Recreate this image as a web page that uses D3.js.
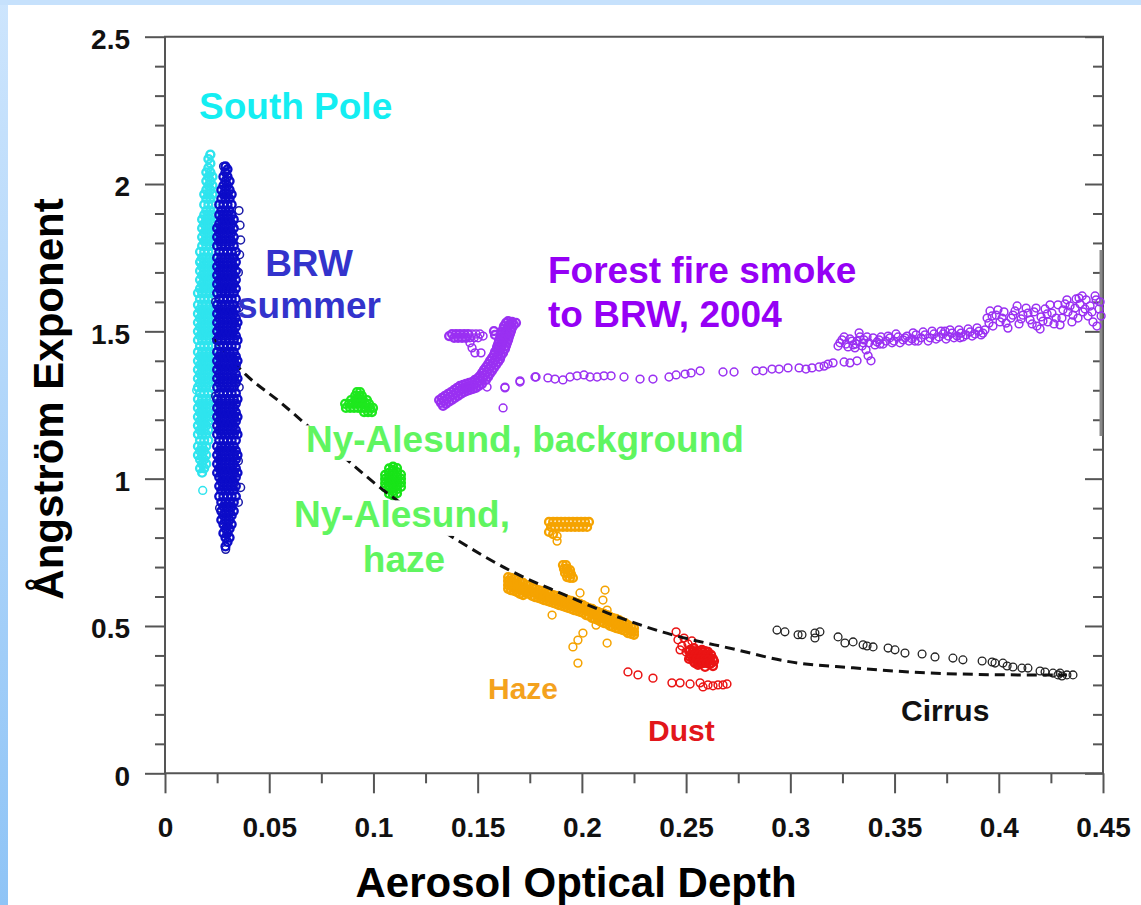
<!DOCTYPE html>
<html>
<head>
<meta charset="utf-8">
<script src="https://cdn.jsdelivr.net/npm/d3@7"></script>
<style>
  html, body { margin: 0; padding: 0; background: #fff; }
  svg { display: block; }
  text { font-family: "Liberation Sans", Arial, Helvetica, sans-serif; font-weight: bold; }
</style>
</head>
<body>
<svg id="chart" width="1141" height="905"></svg>
<script>
// ---- Axis ticks ----
const xTickValues = [0, 0.05, 0.1, 0.15, 0.2, 0.25, 0.3, 0.35, 0.4, 0.45];
const xTickLabels = ["0", "0.05", "0.1", "0.15", "0.2", "0.25", "0.3", "0.35", "0.4", "0.45"];
const xMinorTicks = [0.025, 0.075, 0.125, 0.175, 0.225, 0.275, 0.325, 0.375, 0.425];
const yTickValues = [0, 0.5, 1, 1.5, 2, 2.5];
const yTickLabels = ["0", "0.5", "1", "1.5", "2", "2.5"];
const yMinorTicks = [0.1, 0.2, 0.3, 0.4, 0.6, 0.7, 0.8, 0.9, 1.1, 1.2, 1.3, 1.4, 1.6, 1.7, 1.8, 1.9, 2.1, 2.2, 2.3, 2.4];

// ---- South Pole: dense column, one AOD strip per entry with its Angstrom values ----
const southPoleStrips = [
  { aod: 0.0158, alpha: [1.08, 1.11, 1.15, 1.18, 1.21, 1.24, 1.27, 1.31, 1.34, 1.37, 1.40, 1.43, 1.47, 1.50, 1.53, 1.56, 1.59, 1.63] },
  { aod: 0.0168, alpha: [1.035, 1.065, 1.095, 1.13, 1.165, 1.195, 1.225, 1.255, 1.29, 1.325, 1.355, 1.385, 1.415, 1.45, 1.485, 1.515, 1.545, 1.575, 1.61, 1.645, 1.675, 1.705, 1.735, 1.77] },
  { aod: 0.0178, alpha: [1.02, 1.05, 1.08, 1.11, 1.15, 1.18, 1.21, 1.24, 1.27, 1.31, 1.34, 1.37, 1.40, 1.43, 1.47, 1.50, 1.53, 1.56, 1.59, 1.63, 1.66, 1.69, 1.72, 1.75, 1.79, 1.82, 1.85, 1.88] },
  { aod: 0.0188, alpha: [1.035, 1.065, 1.095, 1.13, 1.165, 1.195, 1.225, 1.255, 1.29, 1.325, 1.355, 1.385, 1.415, 1.45, 1.485, 1.515, 1.545, 1.575, 1.61, 1.645, 1.675, 1.705, 1.735, 1.77, 1.805, 1.835, 1.865, 1.895, 1.93, 1.965] },
  { aod: 0.0198, alpha: [1.05, 1.08, 1.11, 1.15, 1.18, 1.21, 1.24, 1.27, 1.31, 1.34, 1.37, 1.40, 1.43, 1.47, 1.50, 1.53, 1.56, 1.59, 1.63, 1.66, 1.69, 1.72, 1.75, 1.79, 1.82, 1.85, 1.88, 1.91, 1.95, 1.98, 2.01, 2.04] },
  { aod: 0.0208, alpha: [1.13, 1.165, 1.195, 1.225, 1.255, 1.29, 1.325, 1.355, 1.385, 1.415, 1.45, 1.485, 1.515, 1.545, 1.575, 1.61, 1.645, 1.675, 1.705, 1.735, 1.77, 1.805, 1.835, 1.865, 1.895, 1.93, 1.965, 1.995, 2.025, 2.055, 2.085] },
  { aod: 0.0218, alpha: [1.21, 1.24, 1.27, 1.31, 1.34, 1.37, 1.40, 1.43, 1.47, 1.50, 1.53, 1.56, 1.59, 1.63, 1.66, 1.69, 1.72, 1.75, 1.79, 1.82, 1.85, 1.88, 1.91, 1.95, 1.98, 2.01, 2.04, 2.07, 2.10] },
  { aod: 0.0228, alpha: [1.355, 1.385, 1.415, 1.45, 1.485, 1.515, 1.545, 1.575, 1.61, 1.645, 1.675, 1.705, 1.735, 1.77, 1.805, 1.835, 1.865, 1.895, 1.93, 1.965, 1.995, 2.025] }
];
const southPoleExtra = [[0.0181, 0.96], [0.0170, 1.74], [0.0152, 1.30], [0.0216, 2.10]];

// ---- BRW summer ----
const brwStrips = [
  { aod: 0.0250, alpha: [1.02, 1.05, 1.08, 1.11, 1.15, 1.18, 1.21, 1.24, 1.27, 1.31, 1.34, 1.37, 1.40, 1.43, 1.47, 1.50, 1.53, 1.56, 1.59, 1.63, 1.66, 1.69, 1.72, 1.75, 1.79, 1.82, 1.85] },
  { aod: 0.0260, alpha: [0.94, 0.975, 1.005, 1.035, 1.065, 1.095, 1.13, 1.165, 1.195, 1.225, 1.255, 1.29, 1.325, 1.355, 1.385, 1.415, 1.45, 1.485, 1.515, 1.545, 1.575, 1.61, 1.645, 1.675, 1.705, 1.735, 1.77, 1.805, 1.835, 1.865, 1.895, 1.93] },
  { aod: 0.0270, alpha: [0.86, 0.89, 0.92, 0.96, 0.99, 1.02, 1.05, 1.08, 1.11, 1.15, 1.18, 1.21, 1.24, 1.27, 1.31, 1.34, 1.37, 1.40, 1.43, 1.47, 1.50, 1.53, 1.56, 1.59, 1.63, 1.66, 1.69, 1.72, 1.75, 1.79, 1.82, 1.85, 1.88, 1.91, 1.95, 1.98] },
  { aod: 0.0280, alpha: [0.815, 0.845, 0.875, 0.905, 0.94, 0.975, 1.005, 1.035, 1.065, 1.095, 1.13, 1.165, 1.195, 1.225, 1.255, 1.29, 1.325, 1.355, 1.385, 1.415, 1.45, 1.485, 1.515, 1.545, 1.575, 1.61, 1.645, 1.675, 1.705, 1.735, 1.77, 1.805, 1.835, 1.865, 1.895, 1.93, 1.965, 1.995, 2.025] },
  { aod: 0.0290, alpha: [0.77, 0.80, 0.83, 0.86, 0.89, 0.92, 0.96, 0.99, 1.02, 1.05, 1.08, 1.11, 1.15, 1.18, 1.21, 1.24, 1.27, 1.31, 1.34, 1.37, 1.40, 1.43, 1.47, 1.50, 1.53, 1.56, 1.59, 1.63, 1.66, 1.69, 1.72, 1.75, 1.79, 1.82, 1.85, 1.88, 1.91, 1.95, 1.98, 2.01, 2.04, 2.06] },
  { aod: 0.0300, alpha: [0.785, 0.815, 0.845, 0.875, 0.905, 0.94, 0.975, 1.005, 1.035, 1.065, 1.095, 1.13, 1.165, 1.195, 1.225, 1.255, 1.29, 1.325, 1.355, 1.385, 1.415, 1.45, 1.485, 1.515, 1.545, 1.575, 1.61, 1.645, 1.675, 1.705, 1.735, 1.77, 1.805, 1.835, 1.865, 1.895, 1.93, 1.965, 1.995, 2.025, 2.05] },
  { aod: 0.0310, alpha: [0.80, 0.83, 0.86, 0.89, 0.92, 0.96, 0.99, 1.02, 1.05, 1.08, 1.11, 1.15, 1.18, 1.21, 1.24, 1.27, 1.31, 1.34, 1.37, 1.40, 1.43, 1.47, 1.50, 1.53, 1.56, 1.59, 1.63, 1.66, 1.69, 1.72, 1.75, 1.79, 1.82, 1.85, 1.88, 1.91, 1.95, 1.98, 2.01] },
  { aod: 0.0320, alpha: [0.845, 0.875, 0.905, 0.94, 0.975, 1.005, 1.035, 1.065, 1.095, 1.13, 1.165, 1.195, 1.225, 1.255, 1.29, 1.325, 1.355, 1.385, 1.415, 1.45, 1.485, 1.515, 1.545, 1.575, 1.61, 1.645, 1.675, 1.705, 1.735, 1.77, 1.805, 1.835, 1.865, 1.895, 1.93, 1.965] },
  { aod: 0.0330, alpha: [0.89, 0.92, 0.96, 0.99, 1.02, 1.05, 1.08, 1.11, 1.15, 1.18, 1.21, 1.24, 1.27, 1.31, 1.34, 1.37, 1.40, 1.43, 1.47, 1.50, 1.53, 1.56, 1.59, 1.63, 1.66, 1.69, 1.72, 1.75, 1.79, 1.82, 1.85, 1.88] },
  { aod: 0.0340, alpha: [0.94, 0.975, 1.005, 1.035, 1.065, 1.095, 1.13, 1.165, 1.195, 1.225, 1.255, 1.29, 1.325, 1.355, 1.385, 1.415, 1.45, 1.485, 1.515, 1.545, 1.575, 1.61, 1.645, 1.675, 1.705, 1.735, 1.77] },
  { aod: 0.0348, alpha: [1.02, 1.08, 1.15, 1.21, 1.27, 1.34, 1.40, 1.47, 1.53] }
];
const brwExtra = [[0.0355, 1.91], [0.0360, 1.86], [0.0363, 1.81], [0.0358, 1.76], [0.0352, 1.70], [0.0356, 1.31],
  [0.0363, 0.97], [0.0352, 1.06], [0.0243, 1.28], [0.0262, 0.90], [0.0291, 0.76], [0.0281, 2.06], [0.0355, 1.58],
  [0.0243, 1.60], [0.0352, 0.92]];

// ---- Ny-Alesund ----
const nyBackground = [
  [0.0921, 1.294], [0.0936, 1.294],
  [0.0912, 1.281], [0.0931, 1.281], [0.0945, 1.281],
  [0.0892, 1.267], [0.0912, 1.267], [0.0931, 1.267], [0.0950, 1.267], [0.0969, 1.267],
  [0.0864, 1.254], [0.0883, 1.254], [0.0902, 1.254], [0.0921, 1.254], [0.0940, 1.254], [0.0960, 1.254], [0.0979, 1.254],
  [0.0868, 1.240], [0.0888, 1.240], [0.0907, 1.240], [0.0926, 1.240], [0.0945, 1.240], [0.0964, 1.240], [0.0984, 1.240], [0.0998, 1.240],
  [0.0955, 1.226], [0.0974, 1.226], [0.0993, 1.226]];
const nyHaze = [
  [0.1056, 0.970], [0.1056, 0.984], [0.1056, 0.999], [0.1056, 1.013],
  [0.1075, 0.949], [0.1075, 0.963], [0.1075, 0.977], [0.1075, 0.991], [0.1075, 1.005], [0.1075, 1.020], [0.1075, 1.035],
  [0.1094, 0.943], [0.1094, 0.957], [0.1094, 0.971], [0.1094, 0.985], [0.1094, 0.999], [0.1094, 1.013], [0.1094, 1.028], [0.1094, 1.041],
  [0.1113, 0.950], [0.1113, 0.964], [0.1113, 0.979], [0.1113, 0.993], [0.1113, 1.007], [0.1113, 1.022], [0.1113, 1.036],
  [0.1132, 0.972], [0.1132, 0.986], [0.1132, 1.000], [0.1132, 1.014]];

// ---- Forest fire smoke to BRW, 2004 ----
// rising plume and early high-alpha group
const smokePlume = [
  [0.1324, 1.257], [0.1339, 1.264], [0.1353, 1.271], [0.1367, 1.278], [0.1382, 1.284], [0.1396, 1.291], [0.1411, 1.298],
  [0.1425, 1.305], [0.1439, 1.308], [0.1454, 1.311], [0.1468, 1.315], [0.1483, 1.318], [0.1497, 1.325], [0.1511, 1.332],
  [0.1315, 1.267], [0.1329, 1.274], [0.1343, 1.281], [0.1358, 1.288], [0.1372, 1.294], [0.1387, 1.301], [0.1401, 1.308],
  [0.1415, 1.315], [0.1430, 1.318], [0.1444, 1.322], [0.1459, 1.325], [0.1473, 1.328], [0.1487, 1.335], [0.1502, 1.342],
  [0.1334, 1.247], [0.1348, 1.254], [0.1363, 1.261], [0.1377, 1.267], [0.1391, 1.274], [0.1406, 1.281], [0.1420, 1.288],
  [0.1435, 1.294], [0.1449, 1.298], [0.1463, 1.301], [0.1478, 1.305], [0.1492, 1.308], [0.1506, 1.315], [0.1521, 1.322],
  [0.1526, 1.342], [0.1535, 1.352], [0.1545, 1.362], [0.1554, 1.373], [0.1564, 1.383], [0.1574, 1.393], [0.1583, 1.403],
  [0.1593, 1.413], [0.1598, 1.423], [0.1607, 1.434],
  [0.1511, 1.349], [0.1521, 1.359], [0.1530, 1.369], [0.1540, 1.379], [0.1550, 1.389], [0.1559, 1.400], [0.1569, 1.410],
  [0.1578, 1.420], [0.1583, 1.430], [0.1593, 1.440],
  [0.1540, 1.335], [0.1550, 1.345], [0.1559, 1.356], [0.1569, 1.366], [0.1578, 1.376], [0.1588, 1.386], [0.1598, 1.396],
  [0.1607, 1.406], [0.1612, 1.417], [0.1622, 1.427],
  [0.1612, 1.444], [0.1617, 1.454], [0.1622, 1.464], [0.1626, 1.474], [0.1631, 1.484], [0.1636, 1.495], [0.1641, 1.505],
  [0.1646, 1.515], [0.1655, 1.525], [0.1665, 1.532],
  [0.1593, 1.447], [0.1598, 1.457], [0.1602, 1.467], [0.1607, 1.478], [0.1612, 1.488], [0.1617, 1.498], [0.1622, 1.508],
  [0.1626, 1.518], [0.1636, 1.529], [0.1646, 1.535],
  [0.1631, 1.440], [0.1636, 1.451], [0.1641, 1.461], [0.1646, 1.471], [0.1650, 1.481], [0.1655, 1.491], [0.1660, 1.501],
  [0.1665, 1.512], [0.1674, 1.522], [0.1684, 1.529],
  [0.1578, 1.501], [0.1583, 1.488],
  [0.1377, 1.491], [0.1396, 1.491], [0.1415, 1.491], [0.1435, 1.491], [0.1454, 1.491],
  [0.1387, 1.478], [0.1406, 1.478], [0.1425, 1.478], [0.1444, 1.478], [0.1363, 1.484]];
// looser points: group edges, long transport row, and higher-AOD plume
const smokeLoose = [
  [0.1473, 1.491], [0.1492, 1.491], [0.1511, 1.491], [0.1463, 1.478], [0.1483, 1.478], [0.1502, 1.478],
  [0.1526, 1.484], [0.1463, 1.461], [0.1473, 1.444], [0.1487, 1.427], [0.1516, 1.427],
  [0.1545, 1.311], [0.1631, 1.311], [0.1703, 1.328], [0.1622, 1.240], [0.1775, 1.345],
  [0.1631, 1.308], [0.1703, 1.332], [0.1780, 1.345], [0.1837, 1.342], [0.1871, 1.338], [0.1909, 1.335], [0.1943, 1.345],
  [0.1977, 1.349], [0.2010, 1.352], [0.2039, 1.345], [0.2073, 1.345], [0.2106, 1.349], [0.2140, 1.349], [0.2202, 1.345],
  [0.2279, 1.338], [0.2341, 1.338], [0.2418, 1.345], [0.2452, 1.352], [0.2495, 1.355], [0.2524, 1.359], [0.2567, 1.366],
  [0.2677, 1.362], [0.2730, 1.362], [0.2835, 1.366], [0.2869, 1.366], [0.2912, 1.372], [0.2946, 1.372], [0.2989, 1.376],
  [0.3042, 1.376], [0.3075, 1.372], [0.3104, 1.376], [0.3138, 1.379], [0.3162, 1.382], [0.3181, 1.389], [0.3205, 1.393],
  [0.3258, 1.396], [0.3286, 1.393], [0.3320, 1.400],
  [0.3229, 1.450], [0.3248, 1.471], [0.3267, 1.457], [0.3286, 1.474], [0.3301, 1.454], [0.3320, 1.467], [0.3334, 1.481],
  [0.3344, 1.450], [0.3363, 1.437], [0.3373, 1.417], [0.3387, 1.400], [0.3353, 1.471], [0.3377, 1.461], [0.3397, 1.478],
  [0.3416, 1.464], [0.3435, 1.481], [0.3459, 1.467], [0.3478, 1.478], [0.3497, 1.467], [0.3517, 1.481], [0.3541, 1.471],
  [0.3560, 1.484], [0.3584, 1.474], [0.3603, 1.488], [0.3627, 1.478], [0.3646, 1.488], [0.3670, 1.478], [0.3689, 1.491],
  [0.3713, 1.481], [0.3733, 1.491], [0.3757, 1.484], [0.3776, 1.494], [0.3800, 1.484], [0.3819, 1.494], [0.3843, 1.488],
  [0.3862, 1.498], [0.3886, 1.491], [0.3905, 1.501], [0.3924, 1.494], [0.3310, 1.444], [0.3430, 1.457], [0.3598, 1.467],
  [0.3742, 1.501], [0.3814, 1.478],
  [0.3238, 1.461], [0.3258, 1.481], [0.3277, 1.447], [0.3296, 1.467], [0.3315, 1.457], [0.3330, 1.495], [0.3349, 1.461],
  [0.3368, 1.481], [0.3406, 1.454], [0.3425, 1.471], [0.3445, 1.457], [0.3469, 1.484], [0.3488, 1.461], [0.3507, 1.491],
  [0.3526, 1.461], [0.3550, 1.478], [0.3569, 1.467], [0.3589, 1.495], [0.3613, 1.467], [0.3637, 1.498], [0.3661, 1.467],
  [0.3680, 1.501], [0.3699, 1.474], [0.3723, 1.501], [0.3747, 1.474], [0.3766, 1.505], [0.3785, 1.478], [0.3809, 1.505],
  [0.3828, 1.481], [0.3853, 1.508], [0.3872, 1.484], [0.3896, 1.512], [0.3915, 1.488], [0.3934, 1.505],
  [0.3944, 1.545], [0.3958, 1.569], [0.3972, 1.518], [0.3987, 1.555], [0.4006, 1.532], [0.4025, 1.566], [0.4044, 1.511],
  [0.4059, 1.545], [0.4078, 1.569], [0.4097, 1.525], [0.4116, 1.555], [0.4131, 1.579], [0.4150, 1.539], [0.4169, 1.566],
  [0.4183, 1.518], [0.4203, 1.549], [0.4222, 1.576], [0.4236, 1.532], [0.4255, 1.562], [0.4275, 1.545], [0.4294, 1.522],
  [0.4308, 1.573], [0.4327, 1.607], [0.4342, 1.586], [0.4356, 1.555], [0.4371, 1.610], [0.4390, 1.593], [0.4404, 1.566],
  [0.4419, 1.607], [0.4438, 1.586], [0.4452, 1.532], [0.4467, 1.607], [0.4481, 1.576], [0.4491, 1.552], [0.4471, 1.518],
  [0.4351, 1.532], [0.4284, 1.590], [0.4198, 1.508], [0.4428, 1.552], [0.4385, 1.613],
  [0.3953, 1.528], [0.3968, 1.552], [0.3996, 1.573], [0.4016, 1.545], [0.4035, 1.528], [0.4068, 1.555], [0.4088, 1.586],
  [0.4107, 1.542], [0.4140, 1.562], [0.4160, 1.525], [0.4179, 1.579], [0.4212, 1.535], [0.4232, 1.559], [0.4246, 1.590],
  [0.4265, 1.525], [0.4303, 1.545], [0.4318, 1.593], [0.4332, 1.566], [0.4366, 1.579], [0.4380, 1.545], [0.4400, 1.620],
  [0.4414, 1.576], [0.4447, 1.566], [0.4462, 1.620], [0.4486, 1.600]];

// ---- Haze ----
const hazeBand = [
  { aod: 0.1646, alpha: [0.666, 0.653, 0.639, 0.626] }, { aod: 0.1660, alpha: [0.663, 0.649, 0.636, 0.622] },
  { aod: 0.1674, alpha: [0.660, 0.646, 0.632, 0.619] }, { aod: 0.1689, alpha: [0.656, 0.643, 0.629, 0.615] },
  { aod: 0.1703, alpha: [0.649, 0.636, 0.622, 0.609] }, { aod: 0.1718, alpha: [0.646, 0.632, 0.619, 0.605] },
  { aod: 0.1732, alpha: [0.639, 0.626, 0.612] }, { aod: 0.1746, alpha: [0.636, 0.622, 0.609] },
  { aod: 0.1761, alpha: [0.629, 0.615, 0.602] }, { aod: 0.1775, alpha: [0.626, 0.612, 0.598] },
  { aod: 0.1790, alpha: [0.622, 0.609, 0.595] }, { aod: 0.1804, alpha: [0.619, 0.605, 0.592] },
  { aod: 0.1818, alpha: [0.615, 0.602, 0.588] }, { aod: 0.1833, alpha: [0.612, 0.598, 0.585] },
  { aod: 0.1847, alpha: [0.609, 0.595, 0.582] }, { aod: 0.1862, alpha: [0.605, 0.592, 0.578] },
  { aod: 0.1876, alpha: [0.602, 0.588, 0.575] }, { aod: 0.1890, alpha: [0.598, 0.585, 0.571] },
  { aod: 0.1905, alpha: [0.595, 0.582, 0.568] }, { aod: 0.1919, alpha: [0.592, 0.578, 0.565] },
  { aod: 0.1933, alpha: [0.588, 0.575, 0.561] }, { aod: 0.1948, alpha: [0.585, 0.571, 0.558] },
  { aod: 0.1962, alpha: [0.582, 0.568, 0.554] }, { aod: 0.1977, alpha: [0.578, 0.565, 0.551] },
  { aod: 0.1991, alpha: [0.575, 0.561, 0.548] }, { aod: 0.2005, alpha: [0.571, 0.558, 0.544] },
  { aod: 0.2020, alpha: [0.565, 0.551, 0.537] }, { aod: 0.2034, alpha: [0.561, 0.548, 0.534] },
  { aod: 0.2049, alpha: [0.558, 0.541, 0.527] }, { aod: 0.2063, alpha: [0.551, 0.537, 0.524] },
  { aod: 0.2077, alpha: [0.548, 0.534, 0.520] }, { aod: 0.2092, alpha: [0.544, 0.527, 0.514] },
  { aod: 0.2106, alpha: [0.541, 0.524, 0.510] }, { aod: 0.2121, alpha: [0.537, 0.520, 0.507] },
  { aod: 0.2135, alpha: [0.531, 0.514, 0.500] }, { aod: 0.2149, alpha: [0.527, 0.510, 0.497] },
  { aod: 0.2164, alpha: [0.524, 0.507, 0.493] }, { aod: 0.2178, alpha: [0.520, 0.503, 0.490] },
  { aod: 0.2193, alpha: [0.514, 0.500, 0.487] }, { aod: 0.2207, alpha: [0.510, 0.497, 0.483] },
  { aod: 0.2221, alpha: [0.503, 0.490, 0.476] }, { aod: 0.2236, alpha: [0.497, 0.483, 0.473] },
  { aod: 0.2250, alpha: [0.493, 0.480, 0.470] }
];
// high-alpha bar and small group
const hazeCore = [
  [0.1842, 0.853], [0.1862, 0.853], [0.1881, 0.853], [0.1900, 0.853], [0.1919, 0.853], [0.1938, 0.853], [0.1957, 0.853],
  [0.1977, 0.853], [0.1996, 0.853], [0.2015, 0.853], [0.2034, 0.853],
  [0.1852, 0.836], [0.1871, 0.836], [0.1890, 0.836], [0.1909, 0.836], [0.1929, 0.836], [0.1948, 0.836], [0.1967, 0.836],
  [0.1986, 0.836], [0.2005, 0.836], [0.2025, 0.836],
  [0.1842, 0.819], [0.1862, 0.812],
  [0.1909, 0.707], [0.1924, 0.707], [0.1914, 0.694], [0.1929, 0.694], [0.1943, 0.690], [0.1919, 0.680], [0.1933, 0.680],
  [0.1948, 0.676], [0.1929, 0.666], [0.1943, 0.663], [0.1957, 0.663]];
const hazeScatter = [
  [0.1881, 0.805], [0.1881, 0.788],
  [0.1991, 0.612], [0.2111, 0.622], [0.2101, 0.588], [0.2121, 0.554], [0.2005, 0.476], [0.1981, 0.452],
  [0.1957, 0.429], [0.1981, 0.374], [0.1857, 0.537], [0.2121, 0.442], [0.2068, 0.503]];

// ---- Dust ----
const dustCore = [
  [0.2519, 0.419], [0.2538, 0.425], [0.2557, 0.412], [0.2576, 0.419], [0.2519, 0.395], [0.2538, 0.402], [0.2557, 0.388],
  [0.2576, 0.395], [0.2596, 0.402], [0.2615, 0.391], [0.2538, 0.378], [0.2557, 0.368], [0.2576, 0.374], [0.2596, 0.381],
  [0.2615, 0.371], [0.2634, 0.381], [0.2629, 0.364], [0.2591, 0.361], [0.2605, 0.412], [0.2567, 0.381],
  [0.2514, 0.415], [0.2533, 0.415], [0.2552, 0.415], [0.2571, 0.415], [0.2591, 0.415],
  [0.2524, 0.402], [0.2543, 0.402], [0.2562, 0.402], [0.2581, 0.402], [0.2600, 0.402], [0.2620, 0.402],
  [0.2514, 0.388], [0.2533, 0.388], [0.2552, 0.388], [0.2571, 0.388], [0.2591, 0.388], [0.2610, 0.388], [0.2629, 0.388],
  [0.2543, 0.374], [0.2562, 0.374], [0.2581, 0.374], [0.2600, 0.374], [0.2620, 0.374]];
const dustScatter = [
  [0.2500, 0.412], [0.2480, 0.432], [0.2461, 0.453], [0.2452, 0.480], [0.2490, 0.459], [0.2509, 0.439], [0.2528, 0.449],
  [0.2471, 0.419],
  [0.2221, 0.344], [0.2269, 0.334], [0.2341, 0.323], [0.2432, 0.307], [0.2471, 0.307], [0.2519, 0.303], [0.2567, 0.307],
  [0.2581, 0.293], [0.2605, 0.300], [0.2629, 0.297], [0.2653, 0.300], [0.2677, 0.300], [0.2696, 0.303]];

// ---- Cirrus ----
const cirrus = [
  [0.2936, 0.486], [0.2974, 0.480], [0.3037, 0.470], [0.3056, 0.470], [0.3118, 0.476], [0.3142, 0.480], [0.3118, 0.459],
  [0.3229, 0.463], [0.3262, 0.442], [0.3301, 0.446], [0.3349, 0.436], [0.3368, 0.432], [0.3397, 0.429], [0.3469, 0.425],
  [0.3502, 0.419], [0.3550, 0.408], [0.3632, 0.405], [0.3694, 0.395], [0.3780, 0.391], [0.3828, 0.385], [0.3920, 0.381],
  [0.3968, 0.378], [0.3982, 0.374], [0.4020, 0.374], [0.4040, 0.364], [0.4068, 0.361], [0.4111, 0.357], [0.4140, 0.357],
  [0.4198, 0.347], [0.4222, 0.344], [0.4260, 0.340], [0.4284, 0.334], [0.4303, 0.330], [0.4327, 0.334], [0.4356, 0.334],
  [0.4294, 0.340]];

// ---- Fitted curve (dashed) ----
const fitCurve = [[0.0230, 1.478], [0.0389, 1.352], [0.0552, 1.260], [0.0696, 1.172], [0.0864, 1.070], [0.0998, 0.989],
  [0.1401, 0.792], [0.1670, 0.683], [0.1909, 0.608], [0.2149, 0.537], [0.2389, 0.479], [0.2744, 0.419], [0.2984, 0.380],
  [0.3301, 0.358], [0.3622, 0.342], [0.4102, 0.334], [0.4327, 0.334]];

// ================= drawing =================
const W = 1141, H = 905;
const svg = d3.select("#chart");

// page background: pale blue edge with a white sheet
const defs = svg.append("defs");
const grad = defs.append("linearGradient").attr("id", "edgeGrad")
  .attr("x1", 0).attr("y1", 0).attr("x2", 0).attr("y2", 1);
grad.append("stop").attr("offset", "0%").attr("stop-color", "#cde5fd");
grad.append("stop").attr("offset", "100%").attr("stop-color", "#8fc4f6");
svg.append("rect").attr("width", W).attr("height", H).attr("fill", "url(#edgeGrad)");
svg.append("rect").attr("x", 0).attr("y", 0).attr("width", W).attr("height", 5).attr("fill", "#c6e1fc");
svg.append("rect").attr("x", 8).attr("y", 5).attr("width", W - 8).attr("height", H - 5).attr("fill", "#ffffff");

const x = d3.scaleLinear().domain([0, 0.45]).range([165, 1103]);
const y = d3.scaleLinear().domain([0, 2.5]).range([773.3, 36.7]);
const [x0, x1] = x.range();
const [yb, yt] = y.range();

// axes
const axisColor = "#555";
function styleAxis(g) {
  g.select(".domain").remove();
  g.selectAll(".tick line").attr("stroke", axisColor).attr("stroke-width", 2);
  g.selectAll(".tick text").attr("fill", "#111").style("font-size", "28px").style("font-weight", "bold");
}
svg.append("g").attr("transform", `translate(0,${yb})`)
  .call(d3.axisBottom(x).tickValues(xTickValues).tickSize(20).tickPadding(24)
    .tickFormat((d, i) => xTickLabels[i]))
  .call(styleAxis);
svg.append("g").attr("transform", `translate(0,${yb})`)
  .call(d3.axisBottom(x).tickValues(xMinorTicks).tickSize(10).tickFormat(""))
  .call(styleAxis);
const yAxisG = svg.append("g").attr("transform", `translate(${x0},0)`)
  .call(d3.axisLeft(y).tickValues(yTickValues).tickSize(20).tickPadding(15)
    .tickFormat((d, i) => yTickLabels[i]))
  .call(styleAxis);
yAxisG.selectAll(".tick text").attr("dy", "0.42em");
svg.append("g").attr("transform", `translate(${x0},0)`)
  .call(d3.axisLeft(y).tickValues(yMinorTicks).tickSize(10).tickFormat(""))
  .call(styleAxis);
// right side: inward ticks
svg.append("g").attr("transform", `translate(${x1},0)`)
  .call(d3.axisLeft(y).tickValues(yTickValues).tickSize(18).tickFormat(""))
  .call(styleAxis);
svg.append("g").attr("transform", `translate(${x1},0)`)
  .call(d3.axisLeft(y).tickValues(yMinorTicks).tickSize(10).tickFormat(""))
  .call(styleAxis);

// frame
const frame = svg.append("g").attr("fill", "none").attr("stroke", axisColor).attr("stroke-width", 2);
frame.append("path").attr("d", `M${x0},${yt}H${x1}V${yb}H${x0}Z`);
frame.append("line").attr("x1", x1 - 2).attr("x2", x1 - 2).attr("y1", 250).attr("y2", 436)
  .attr("stroke", "#888").attr("stroke-width", 3);

// scatter helpers: open circles; crowded groups get a heavier ring
const stripPoints = strips => strips.flatMap(s => s.alpha.map(a => [s.aod, a]));
function dots(pts, color, sw = 1.5) {
  svg.append("g").selectAll("circle").data(pts).join("circle")
    .attr("cx", d => x(d[0])).attr("cy", d => y(d[1])).attr("r", 3.9)
    .attr("fill", "none").attr("stroke", color).attr("stroke-width", sw);
}
const DENSE = 2.4;

dots(southPoleExtra, "#2fe4ee");
dots(stripPoints(southPoleStrips), "#2fe4ee", DENSE);
dots(nyBackground, "#1ee81e", DENSE);
dots(nyHaze, "#18e418", DENSE);
dots(smokeLoose, "#9a30f2");
dots(smokePlume, "#9a30f2", DENSE);
dots(hazeScatter, "#f5a300");
dots(stripPoints(hazeBand).concat(hazeCore), "#f5a300", DENSE);
dots(dustScatter, "#ea1414");
dots(dustCore, "#ea1414", DENSE);
dots(cirrus, "#222", 1.3);

// fitted curve
svg.append("path").datum(fitCurve)
  .attr("d", d3.line().x(d => x(d[0])).y(d => y(d[1])).curve(d3.curveMonotoneX))
  .attr("fill", "none").attr("stroke", "#111").attr("stroke-width", 3)
  .attr("stroke-dasharray", "10,6");

dots(brwExtra, "#1a1aa8");
dots(stripPoints(brwStrips), "#0c0cc8", DENSE);

// annotations
function label(txt, px, py, color, size, anchor = "start", boxed = false) {
  const t = svg.append("text").attr("x", px).attr("y", py).attr("fill", color)
    .attr("text-anchor", anchor).style("font-size", size + "px").text(txt);
  if (boxed) {
    const b = t.node().getBBox();
    svg.insert("rect", () => t.node()).attr("x", b.x - 2).attr("y", py - 0.72 * size)
      .attr("width", b.width + 4).attr("height", 0.96 * size).attr("fill", "#fff");
  }
  return t;
}
label("South Pole", 199, 119, "#14eef2", 37);
label("BRW", 309, 276, "#3333cc", 37, "middle");
label("summer", 309, 318, "#3333cc", 37, "middle");
label("Forest fire smoke", 548, 283, "#9500f5", 37);
label("to BRW, 2004", 548, 327, "#9500f5", 37);
label("Ny-Alesund, background", 306, 452, "#60f560", 37, "start", true);
label("Ny-Alesund,", 402, 527, "#60f560", 37, "middle", true);
label("haze", 404, 572, "#60f560", 37, "middle", true);
label("Haze", 488, 699, "#f4a21e", 30);
label("Dust", 648, 741, "#e2161b", 30);
label("Cirrus", 901, 721, "#111", 30);

// axis titles
svg.append("text").attr("x", 576).attr("y", 897).attr("text-anchor", "middle")
  .attr("fill", "#000").style("font-size", "42px").text("Aerosol Optical Depth");
svg.append("text").attr("transform", "translate(63,399) rotate(-90)").attr("text-anchor", "middle")
  .attr("fill", "#000").style("font-size", "42px").text("Ångström Exponent");
</script>
</body>
</html>
